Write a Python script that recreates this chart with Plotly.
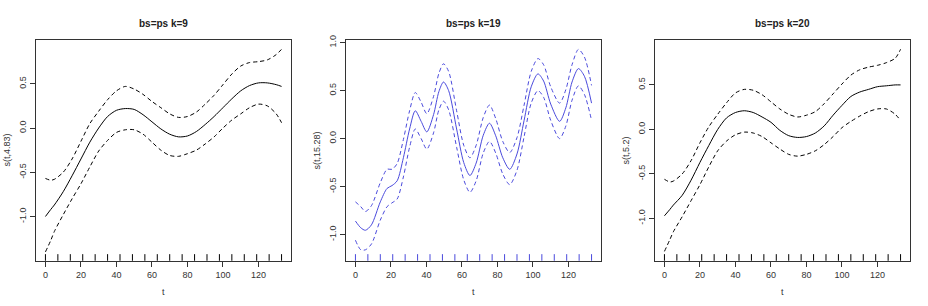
import plotly.graph_objects as go

# ---------------- data ----------------
rug_t = [0, 7, 14, 21, 28, 35, 42, 49, 56, 63, 70, 77, 84, 91, 98, 105, 112, 119, 126, 133]

t_a = [0, 3, 5, 10, 15, 20, 25, 30, 35, 40, 45, 50, 55, 60, 65, 70, 75, 80, 85, 90,
       95, 100, 105, 110, 115, 120, 125, 130, 133]

fit_k9 = [-1.0, -0.92, -0.87, -0.72, -0.54, -0.35, -0.16, 0.0, 0.13, 0.20, 0.22, 0.21, 0.15,
          0.07, -0.01, -0.07, -0.10, -0.09, -0.04, 0.04, 0.13, 0.23, 0.33, 0.42, 0.48, 0.51,
          0.51, 0.49, 0.47]
up_k9 = [-0.57, -0.59, -0.58, -0.50, -0.35, -0.15, 0.05, 0.19, 0.32, 0.42, 0.47, 0.44, 0.38,
         0.30, 0.23, 0.16, 0.12, 0.13, 0.18, 0.27, 0.37, 0.49, 0.61, 0.70, 0.74, 0.75, 0.77,
         0.83, 0.89]
lo_k9 = [-1.40, -1.27, -1.17, -0.98, -0.80, -0.63, -0.44, -0.26, -0.14, -0.05, -0.02, -0.02,
         -0.07, -0.16, -0.25, -0.31, -0.32, -0.29, -0.25, -0.18, -0.10, 0.00, 0.09, 0.16, 0.23,
         0.27, 0.25, 0.16, 0.06]

t_b = [0, 3, 5.6, 9, 14, 17.8, 20.6, 23.5, 27, 30.5, 33.7, 37, 40.2, 44, 47, 49.6, 52.5, 57,
       61, 64.5, 68, 72, 75.5, 79, 83, 86.9, 91, 95, 99, 102.8, 106, 110, 115, 118.5, 122,
       125.6, 129, 133]
fit_k19 = [-0.86, -0.93, -0.956, -0.90, -0.66, -0.52, -0.49, -0.44, -0.20, 0.10, 0.29, 0.18,
           0.07, 0.25, 0.49, 0.59, 0.50, 0.10, -0.25, -0.385, -0.255, 0.035, 0.16, 0.03,
           -0.20, -0.32, -0.16, 0.19, 0.54, 0.675, 0.60, 0.36, 0.18, 0.32, 0.59, 0.73, 0.65,
           0.37]
up_k19 = [-0.66, -0.71, -0.76, -0.70, -0.46, -0.32, -0.32, -0.26, -0.01, 0.29, 0.48, 0.38,
          0.26, 0.44, 0.68, 0.78, 0.70, 0.29, -0.07, -0.20, -0.07, 0.22, 0.35, 0.21, -0.03,
          -0.145, 0.01, 0.35, 0.70, 0.835, 0.77, 0.54, 0.37, 0.51, 0.77, 0.93, 0.85, 0.555]
lo_k19 = [-1.06, -1.16, -1.16, -1.10, -0.85, -0.71, -0.67, -0.63, -0.40, -0.09, 0.10, 0.0,
          -0.11, 0.06, 0.30, 0.39, 0.30, -0.09, -0.43, -0.56, -0.44, -0.15, -0.03, -0.15,
          -0.37, -0.48, -0.33, 0.02, 0.37, 0.50, 0.43, 0.19, 0.0, 0.13, 0.40, 0.55, 0.46, 0.19]

fit_k20 = [-0.97, -0.90, -0.85, -0.74, -0.57, -0.37, -0.18, 0.0, 0.13, 0.19, 0.21, 0.19, 0.14,
           0.08, -0.01, -0.07, -0.09, -0.08, -0.04, 0.04, 0.16, 0.27, 0.37, 0.42, 0.45, 0.48,
           0.49, 0.50, 0.50]
up_k20 = [-0.56, -0.59, -0.58, -0.50, -0.35, -0.15, 0.03, 0.17, 0.30, 0.41, 0.45, 0.44, 0.39,
          0.31, 0.23, 0.17, 0.14, 0.16, 0.20, 0.29, 0.40, 0.51, 0.61, 0.67, 0.70, 0.72, 0.75,
          0.80, 0.90]
lo_k20 = [-1.37, -1.24, -1.15, -0.98, -0.80, -0.62, -0.42, -0.24, -0.13, -0.06, -0.03, -0.04,
          -0.08, -0.15, -0.22, -0.28, -0.30, -0.28, -0.24, -0.17, -0.08, 0.02, 0.09, 0.15, 0.20,
          0.23, 0.23, 0.17, 0.10]

titles = ["bs=ps k=9", "bs=ps k=19", "bs=ps k=20"]
ylabels = ["s(t,4.83)", "s(t,15.28)", "s(t,5.2)"]
x_ticks = [0, 20, 40, 60, 80, 100, 120]
y_ticks = [[-1.0, -0.5, 0.0, 0.5], [-1.0, -0.5, 0.0, 0.5, 1.0], [-1.0, -0.5, 0.0, 0.5]]
y_ranges = [[-1.50, 0.99], [-1.274, 1.024], [-1.475, 1.0]]

# ---------------- figure ----------------
W, H = 928, 306
panels = [
    (t_a, fit_k9, up_k9, lo_k9, "#000000"),
    (t_b, fit_k19, up_k19, lo_k19, "#4a4adc"),
    (t_a, fit_k20, up_k20, lo_k20, "#000000"),
]
x_dom_px = [(36, 291), (346, 601), (655, 910)]
y_top_px, y_bot_px = 36, 260

fig = go.Figure()
layout = dict(
    width=W, height=H, margin=dict(l=0, r=0, t=0, b=0),
    paper_bgcolor="white", plot_bgcolor="white", showlegend=False,
    font=dict(family="Liberation Sans, Arial, sans-serif", size=9, color="#333333"),
)
annotations = []
shapes = []
tick_font = dict(family="Liberation Sans, Arial, sans-serif", size=9, color="#333333")

for i, (tt, fit, up, lo, col) in enumerate(panels):
    n = "" if i == 0 else str(i + 1)
    xa, ya = "x" + n, "y" + n
    for arr, dash in ((fit, "solid"), (up, "4px,3px"), (lo, "4px,3px")):
        fig.add_trace(go.Scatter(
            x=tt, y=arr, mode="lines", xaxis=xa, yaxis=ya,
            line=dict(color=col, width=1.0, dash=dash, shape="spline", smoothing=0.8),
            hoverinfo="skip"))
    for r in rug_t:
        shapes.append(dict(type="line", xref=xa, yref=ya + " domain", x0=r, x1=r,
                           y0=0, y1=0.03, line=dict(color=col, width=1)))
    x0, x1 = x_dom_px[i]
    layout["xaxis" + n] = dict(
        domain=[x0 / W, x1 / W], range=[-5.32, 138.32], anchor=ya,
        tickvals=x_ticks, ticks="outside", ticklen=5, tickcolor="#333333",
        showline=True, linecolor="#333333", linewidth=1, mirror=True,
        showgrid=False, zeroline=False, tickfont=tick_font)
    layout["yaxis" + n] = dict(
        domain=[1 - y_bot_px / H, 1 - y_top_px / H], range=y_ranges[i], anchor=xa,
        tickvals=y_ticks[i], ticktext=["%.1f" % v for v in y_ticks[i]],
        tickangle=-90, ticks="outside", ticklen=5, tickcolor="#333333",
        showline=True, linecolor="#333333", linewidth=1, mirror=True,
        showgrid=False, zeroline=False, tickfont=tick_font)
    cx = (x0 + x1) / 2 / W
    annotations.append(dict(text="<b>" + titles[i] + "</b>", xref="paper", yref="paper",
                            x=cx, y=1 - 19 / H, showarrow=False, xanchor="center",
                            yanchor="middle", font=dict(size=10, color="#222222")))
    annotations.append(dict(text="t", xref="paper", yref="paper", x=cx, y=1 - 292 / H,
                            showarrow=False, xanchor="center", yanchor="middle",
                            font=dict(size=9, color="#333333")))
    annotations.append(dict(text=ylabels[i], xref="paper", yref="paper",
                            x=(x0 - 29) / W, y=1 - 148 / H, textangle=-90,
                            showarrow=False, xanchor="center", yanchor="middle",
                            font=dict(size=9, color="#333333")))

layout["annotations"] = annotations
layout["shapes"] = shapes
fig.update_layout(**layout)
fig.write_html("out.html", config={"displayModeBar": False},
               post_script="document.body.style.margin='0';document.body.style.overflow='hidden';")
